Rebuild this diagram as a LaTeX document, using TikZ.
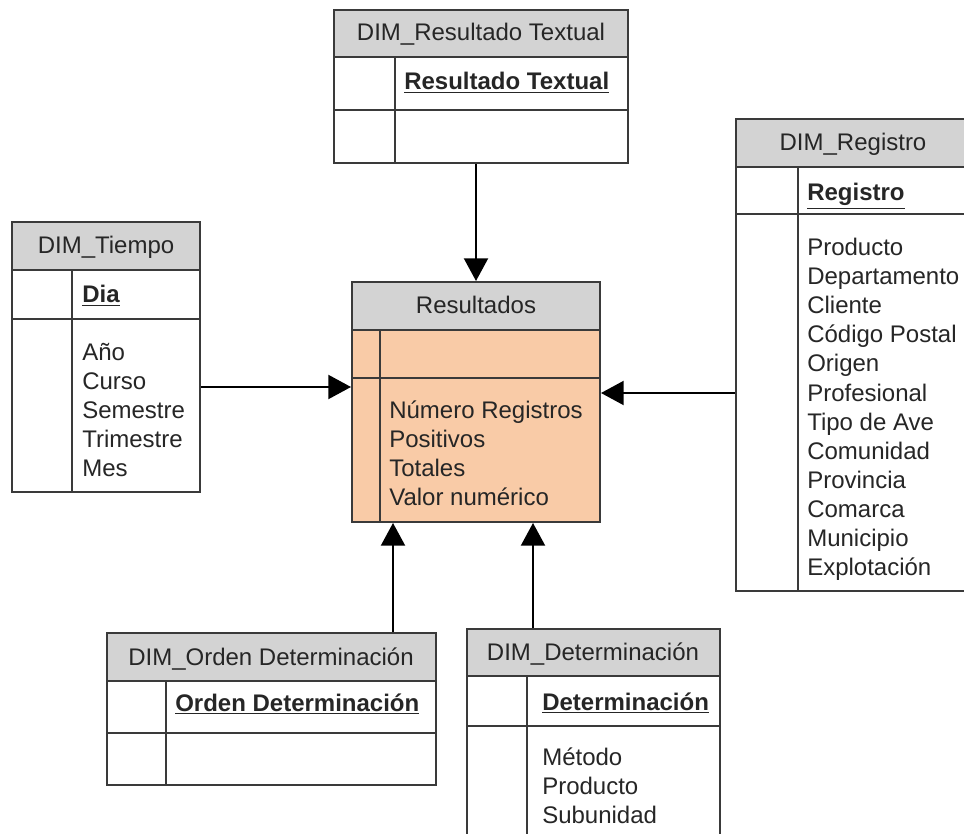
\documentclass[tikz,border=0pt]{standalone}
\usepackage{fontspec}
\setmainfont{Liberation Sans}
\usetikzlibrary{arrows.meta,fit}
\definecolor{hdrgray}{HTML}{D3D3D3}
\definecolor{factfill}{HTML}{F9CBA7}
\definecolor{edge}{HTML}{3A3A3A}
\definecolor{ink}{HTML}{262626}

\begin{document}
\begin{tikzpicture}[x=0.75pt,y=-0.75pt,
  tbl/.style={draw=edge,line width=1.5pt,inner sep=0pt,fill=white},
  hdr/.style={tbl,fill=hdrgray},
  rule/.style={draw=edge,line width=1.5pt},
  txt/.style={inner sep=0pt,text=ink,font=\fontsize{18}{21.75}\selectfont},
  lbl/.style={txt,anchor=base},
  attr/.style={txt,anchor=base west},
  key/.style={attr,font=\fontsize{18}{21.75}\selectfont\bfseries},
  conn/.style={draw=black,line width=1.5pt,-{Triangle[length=17pt,width=18pt]}}]

\clip (0,0) rectangle (964,834);
\fill[white] (0,0) rectangle (964,834);

% ---- DIM_Resultado Textual ----
\node[tbl,fit={(334,10)(628,163)}] (rt) {};
\node[hdr,fit={(334,10)(628,57)}] (rt-h) {};
\draw[rule] (334,110) -- (628,110) (395,57) -- (395,163);
\node[lbl] (rt-t) at (481,41) {DIM\_Resultado Textual};
\node[key] (rt-k) at (404,90) {\underline{Resultado Textual}};

% ---- DIM_Tiempo ----
\node[tbl,fit={(12,222)(200,492)}] (tie) {};
\node[hdr,fit={(12,222)(200,270)}] (tie-h) {};
\draw[rule] (12,319) -- (200,319) (72,270) -- (72,492);
\node[lbl] (tie-t) at (106,254) {DIM\_Tiempo};
\node[key] (tie-k) at (82,303) {\underline{Dia}};
\foreach \t [count=\i] in {Año,Curso,Semestre,Trimestre,Mes}
  \node[attr] (tie-a\i) at (82,{360+29*(\i-1)}) {\t};

% ---- Resultados (fact table) ----
\node[tbl,fill=factfill,fit={(352,282)(600,522)}] (res) {};
\node[hdr,fit={(352,282)(600,330)}] (res-h) {};
\draw[rule] (352,378) -- (600,378) (380,330) -- (380,522);
\node[lbl] (res-t) at (476,314) {Resultados};
\foreach \t [count=\i] in {Número Registros,Positivos,Totales,Valor numérico}
  \node[attr] (res-a\i) at (389,{418+29*(\i-1)}) {\t};

% ---- DIM_Registro ----
\node[tbl,fit={(736,119)(970,591)}] (reg) {};
\node[hdr,fit={(736,119)(970,167)}] (reg-h) {};
\draw[rule] (736,214) -- (970,214) (798,167) -- (798,591);
\node[lbl] (reg-t) at (853,151) {DIM\_Registro};
\node[key] (reg-k) at (807,201) {\underline{Registro}};
\foreach \t [count=\i] in {Producto,Departamento,Cliente,Código Postal,Origen,Profesional,Tipo de Ave,Comunidad,Provincia,Comarca,Municipio,Explotación}
  \node[attr] (reg-a\i) at (807,{256+29*(\i-1)}) {\t};

% ---- DIM_Orden Determinación ----
\node[tbl,fit={(107,633)(436,785)}] (ord) {};
\node[hdr,fit={(107,633)(436,681)}] (ord-h) {};
\draw[rule] (107,733) -- (436,733) (166,681) -- (166,785);
\node[lbl] (ord-t) at (271,665) {DIM\_Orden Determinación};
\node[key] (ord-k) at (175,711) {\underline{Orden Determinación}};

% ---- DIM_Determinación ----
\node[tbl,fit={(467,629)(720,850)}] (det) {};
\node[hdr,fit={(467,629)(720,676)}] (det-h) {};
\draw[rule] (467,726) -- (720,726) (527,676) -- (527,850);
\node[lbl] (det-t) at (593,660) {DIM\_Determinación};
\node[key] (det-k) at (542,710) {\underline{Determinación}};
\foreach \t [count=\i] in {Método,Producto,Subunidad}
  \node[attr] (det-a\i) at (542,{765+29*(\i-1)}) {\t};

% ---- connectors ----
\coordinate (yl) at (0,387);
\coordinate (yr) at (0,393);
\coordinate (xl) at (393,0);
\coordinate (xr) at (533,0);
\draw[conn] (rt.south -| res.north) -- (res.north);
\draw[conn] (tie.east |- yl) -- (res.west |- yl);
\draw[conn] (reg.west |- yr) -- (res.east |- yr);
\draw[conn] (ord.north -| xl) -- (res.south -| xl);
\draw[conn] (det.north -| xr) -- (res.south -| xr);
\end{tikzpicture}
\end{document}
